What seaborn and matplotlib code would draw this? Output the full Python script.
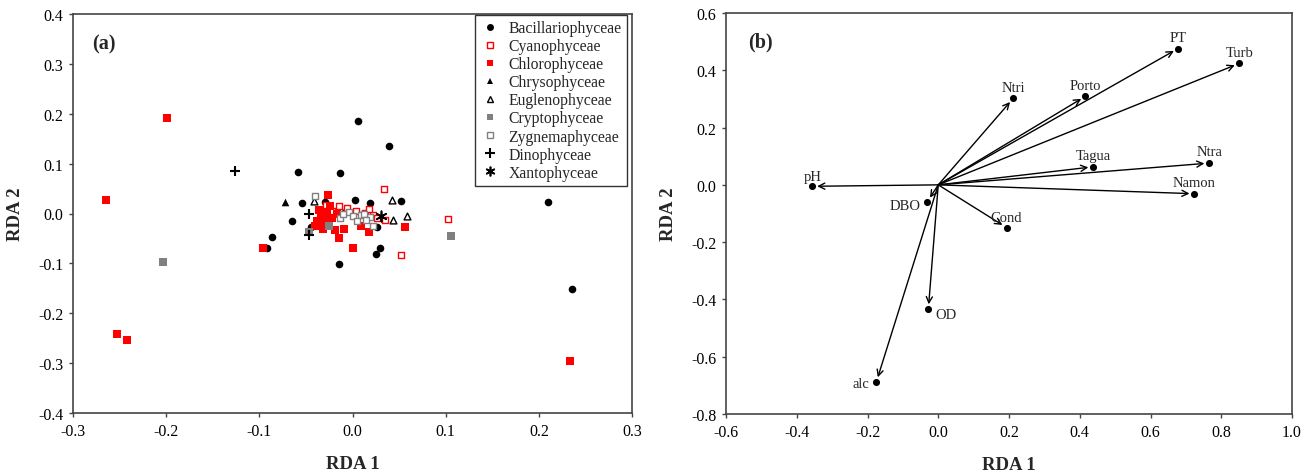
import matplotlib
matplotlib.use("Agg")
import matplotlib.pyplot as plt
from matplotlib.lines import Line2D
import seaborn as sns
import numpy as np

# ---- Panel (a): species scores by algal class ----
bac_x = [0.006, 0.039, -0.059, -0.013, -0.054, -0.030, 0.003, 0.019, 0.052, -0.065,
         -0.086, -0.092, 0.030, 0.025, -0.015, 0.210, 0.236, -0.045, 0.026, -0.036]
bac_y = [0.186, 0.136, 0.084, 0.082, 0.022, 0.024, 0.028, 0.022, 0.026, -0.016,
         -0.048, -0.070, -0.070, -0.082, -0.102, 0.024, -0.152, -0.028, -0.028, -0.012]

cya_x = [0.034, 0.102, 0.052, 0.035, -0.015, -0.006, 0.004, 0.013, 0.022, -0.022, 0.018, 0.026, -0.028]
cya_y = [0.050, -0.012, -0.084, -0.014, 0.016, 0.012, 0.006, 0.002, -0.004, 0.006, 0.010, -0.010, 0.018]

chl_x = [-0.199, -0.265, -0.253, -0.242, 0.233, -0.096, 0.056, 0.009, 0.018, -0.009,
         -0.014, 0.000, -0.026, -0.024, -0.027, -0.034, -0.038, -0.031, -0.032, -0.019,
         -0.040, -0.022, -0.029, -0.036, -0.017]
chl_y = [0.192, 0.028, -0.242, -0.253, -0.295, -0.070, -0.028, -0.026, -0.038, -0.032,
         -0.050, -0.070, 0.038, 0.016, 0.004, -0.006, -0.016, -0.020, -0.032, -0.034,
         -0.026, -0.010, -0.004, 0.008, 0.000]

chr_x = [-0.072]
chr_y = [0.024]

eug_x = [-0.041, 0.042, 0.059, 0.043, -0.016, -0.012]
eug_y = [0.026, 0.028, -0.006, -0.014, 0.010, 0.008]

cry_x = [-0.203, 0.106, -0.047, -0.025]
cry_y = [-0.098, -0.046, -0.038, -0.026]

zyg_x = [-0.040, -0.013, -0.004, 0.000, 0.009, 0.019, 0.022, 0.005, -0.010, 0.012, 0.015]
zyg_y = [0.036, -0.010, 0.004, -0.006, -0.004, -0.008, -0.026, -0.016, -0.002, 0.000, -0.014]

din_x = [-0.126, -0.047, -0.047]
din_y = [0.086, -0.002, -0.044]

xan_x = [0.031]
xan_y = [-0.006]

# ---- Panel (b): environmental variable vectors ----
env_names = ["pH", "DBO", "Cond", "Ntri", "Porto", "PT", "Turb", "Tagua", "Ntra", "Namon", "OD", "alc"]
env_x = [-0.356, -0.031, 0.193, 0.212, 0.416, 0.678, 0.851, 0.438, 0.766, 0.724, -0.028, -0.175]
env_y = [-0.005, -0.059, -0.149, 0.302, 0.309, 0.476, 0.424, 0.063, 0.076, -0.031, -0.434, -0.688]

a_xticks = [-0.3, -0.2, -0.1, 0.0, 0.1, 0.2, 0.3]
a_yticks = [-0.4, -0.3, -0.2, -0.1, 0.0, 0.1, 0.2, 0.3, 0.4]
b_xticks = [-0.6, -0.4, -0.2, 0.0, 0.2, 0.4, 0.6, 0.8, 1.0]
b_yticks = [-0.8, -0.6, -0.4, -0.2, 0.0, 0.2, 0.4, 0.6]

sns.set_style("ticks")
plt.rcParams["font.family"] = ["Liberation Serif", "DejaVu Serif"]
plt.rcParams["axes.unicode_minus"] = False

SPINE = "#444444"
RED = "#ff0000"
GREY = "#808080"

fig = plt.figure(figsize=(13.16, 4.77), dpi=100)
ax1 = fig.add_axes([73 / 1316, 1 - 414 / 477, (632 - 73) / 1316, (414 - 15) / 477])
ax2 = fig.add_axes([726 / 1316, 1 - 415 / 477, (1292 - 726) / 1316, (415 - 14) / 477])

groups = [
    ("Bacillariophyceae", bac_x, bac_y, dict(marker="o", facecolor="black", edgecolor="black", s=30, linewidth=0)),
    ("Chrysophyceae", chr_x, chr_y, dict(marker="^", facecolor="black", edgecolor="black", s=30, linewidth=0)),
    ("Euglenophyceae", eug_x, eug_y, dict(marker="^", facecolor="white", edgecolor="black", s=24, linewidth=1.0)),
    ("Cyanophyceae", cya_x, cya_y, dict(marker="s", facecolor="white", edgecolor=RED, s=22, linewidth=1.0)),
    ("Chlorophyceae", chl_x, chl_y, dict(marker="s", facecolor=RED, edgecolor=RED, s=28, linewidth=0)),
    ("Cryptophyceae", cry_x, cry_y, dict(marker="s", facecolor=GREY, edgecolor=GREY, s=28, linewidth=0)),
    ("Zygnemaphyceae", zyg_x, zyg_y, dict(marker="s", facecolor="white", edgecolor=GREY, s=22, linewidth=1.0)),
    ("Dinophyceae", din_x, din_y, dict(marker="+", color="black", s=55, linewidth=1.5)),
    ("Xantophyceae", xan_x, xan_y, dict(marker=(6, 2, 0), color="black", s=55, linewidth=1.2)),
]
for name, gx, gy, kw in groups:
    sns.scatterplot(x=gx, y=gy, ax=ax1, legend=False, zorder=3, **kw)

ax1.set_xlim(-0.3, 0.3)
ax1.set_ylim(-0.4, 0.4)
ax1.set_xticks(a_xticks)
ax1.set_yticks(a_yticks)
ax1.set_xticklabels([f"{v:.1f}" for v in a_xticks])
ax1.set_yticklabels([f"{v:.1f}" for v in a_yticks])
ax1.set_xlabel("RDA 1", fontsize=13.5, fontweight="bold", labelpad=12)
ax1.set_ylabel("RDA 2", fontsize=13.5, fontweight="bold", labelpad=10)
ax1.text(0.034, 0.927, "(a)", transform=ax1.transAxes, fontsize=14.5, fontweight="bold", va="center")

legend_order = ["Bacillariophyceae", "Cyanophyceae", "Chlorophyceae", "Chrysophyceae",
                "Euglenophyceae", "Cryptophyceae", "Zygnemaphyceae", "Dinophyceae", "Xantophyceae"]
legend_style = {
    "Bacillariophyceae": dict(marker="o", mfc="black", mec="black", ms=5, mew=0),
    "Cyanophyceae": dict(marker="s", mfc="white", mec=RED, ms=4.5, mew=1.0),
    "Chlorophyceae": dict(marker="s", mfc=RED, mec=RED, ms=5, mew=0),
    "Chrysophyceae": dict(marker="^", mfc="black", mec="black", ms=5, mew=0),
    "Euglenophyceae": dict(marker="^", mfc="white", mec="black", ms=4.5, mew=1.0),
    "Cryptophyceae": dict(marker="s", mfc=GREY, mec=GREY, ms=5, mew=0),
    "Zygnemaphyceae": dict(marker="s", mfc="white", mec=GREY, ms=4.5, mew=1.0),
    "Dinophyceae": dict(marker="+", color="black", ms=7, mew=1.5),
    "Xantophyceae": dict(marker=(6, 2, 0), color="black", ms=7, mew=1.2),
}
handles = [Line2D([], [], linestyle="none", label=n, **legend_style[n]) for n in legend_order]
leg = ax1.legend(handles=handles, loc="upper right", bbox_to_anchor=(0.991, 0.998),
                 borderaxespad=0, frameon=True, fancybox=False, fontsize=11.3,
                 handlelength=1.2, handletextpad=0.6, labelspacing=0.13,
                 borderpad=0.35, edgecolor="black")
leg.get_frame().set_linewidth(1.0)

# environmental vectors from the origin
for name, ex, ey in zip(env_names, env_x, env_y):
    ax2.annotate("", xy=(ex, ey), xytext=(0, 0),
                 arrowprops=dict(arrowstyle="->", color="black", lw=1.0,
                                 shrinkA=0, shrinkB=3.5, mutation_scale=11))
sns.scatterplot(x=env_x, y=env_y, ax=ax2, color="black", s=26, linewidth=0, zorder=4, legend=False)

label_pos = {
    "pH": ((0, 7), "center"),
    "DBO": ((-5, -3), "right"),
    "Cond": ((0, 7), "center"),
    "Ntri": ((0, 8), "center"),
    "Porto": ((0, 8), "center"),
    "PT": ((0, 8), "center"),
    "Turb": ((0, 8), "center"),
    "Tagua": ((0, 8), "center"),
    "Ntra": ((0, 8), "center"),
    "Namon": ((0, 8), "center"),
    "OD": ((5, -4), "left"),
    "alc": ((-5, -1), "right"),
}
for name, ex, ey in zip(env_names, env_x, env_y):
    off, ha = label_pos[name]
    ax2.annotate(name, xy=(ex, ey), xytext=off, textcoords="offset points",
                 ha=ha, va="center", fontsize=10.5)

ax2.set_xlim(-0.6, 1.0)
ax2.set_ylim(-0.8, 0.6)
ax2.set_xticks(b_xticks)
ax2.set_yticks(b_yticks)
ax2.set_xticklabels([f"{v:.1f}" for v in b_xticks])
ax2.set_yticklabels([f"{v:.1f}" for v in b_yticks])
ax2.set_xlabel("RDA 1", fontsize=13.5, fontweight="bold", labelpad=12)
ax2.set_ylabel("RDA 2", fontsize=13.5, fontweight="bold", labelpad=10)
ax2.text(0.039, 0.93, "(b)", transform=ax2.transAxes, fontsize=14.5, fontweight="bold", va="center")

for ax in (ax1, ax2):
    for sp in ax.spines.values():
        sp.set_visible(True)
        sp.set_color(SPINE)
        sp.set_linewidth(1.2)
    ax.tick_params(direction="out", length=3, width=1.0, color=SPINE,
                   labelsize=11.5, labelcolor="black", pad=4)

fig.savefig("out.png", dpi=100, facecolor="white")
